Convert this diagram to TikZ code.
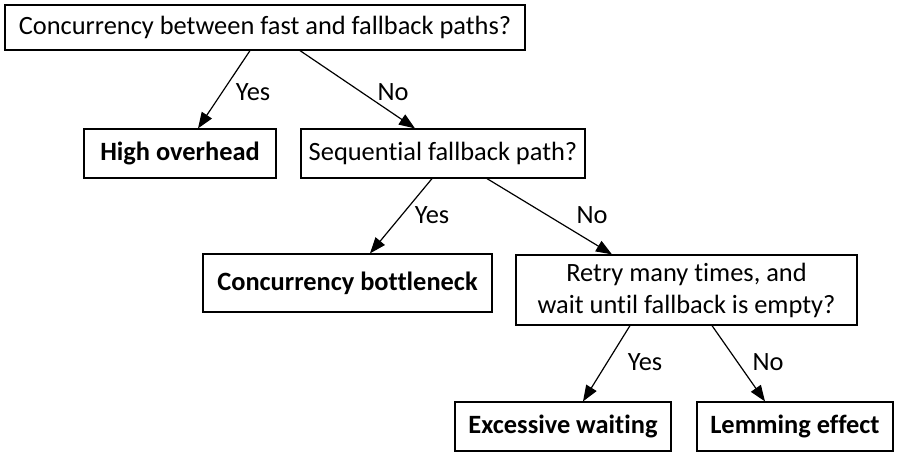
\documentclass[tikz,border=0pt]{standalone}
\usepackage{fontspec}
\setmainfont{Carlito}[Ligatures={NoCommon},Contextuals={NoAlternate},RawFeature={-liga;-calt;-clig}]
\usetikzlibrary{arrows.meta}
\begin{document}
\begin{tikzpicture}[x=0.5pt,y=-0.5pt,line width=0.6pt,every node/.style={font=\fontsize{13.2}{16}\selectfont,inner sep=0pt},
  box/.style={draw,align=center},
  leaf/.style={box,font=\fontsize{13.2}{16}\selectfont\bfseries},
  arr/.style={-{Triangle[length=8pt,width=6pt]}}]
\useasboundingbox (0,0) rectangle (899,456);
\node[box,minimum width=260pt,minimum height=22.5pt] (top) at (265,27.5) {Concurrency between fast and fallback paths?};
\node[leaf,minimum width=96pt,minimum height=24.5pt] (high) at (180,153.5) {High overhead};
\node[box,minimum width=142pt,minimum height=24.5pt] (seq) at (443,153.5) {Sequential fallback path?};
\node[leaf,minimum width=144.5pt,minimum height=29pt] (bneck) at (347.5,283) {Concurrency bottleneck};
\node[box,minimum width=170.5pt,minimum height=35pt] (retry) at (686.5,290) {Retry many times, and\\wait until fallback is empty?};
\node[leaf,minimum width=108pt,minimum height=24.5pt] (wait) at (563,426.5) {Excessive waiting};
\node[leaf,minimum width=98pt,minimum height=24.5pt] (lem) at (795,426.5) {Lemming effect};
\draw[arr] (top.south -| 250,0) -- (high.north -| 198,0);
\draw[arr] (top.south -| 300,0) -- (seq.north -| 415,0);
\draw[arr] (seq.south -| 432,0) -- (bneck.north -| 370,0);
\draw[arr] (seq.south -| 487,0) -- (retry.north -| 612,0);
\draw[arr] (retry.south -| 630,0) -- (wait.north -| 583,0);
\draw[arr] (retry.south -| 712,0) -- (lem.north -| 765,0);
\node (y1) at (253,92) {Yes};
\node (n1) at (393,92) {No};
\node (y2) at (432,215) {Yes};
\node (n2) at (592,215) {No};
\node (y3) at (645,362) {Yes};
\node (n3) at (768,362) {No};
\end{tikzpicture}
\end{document}
